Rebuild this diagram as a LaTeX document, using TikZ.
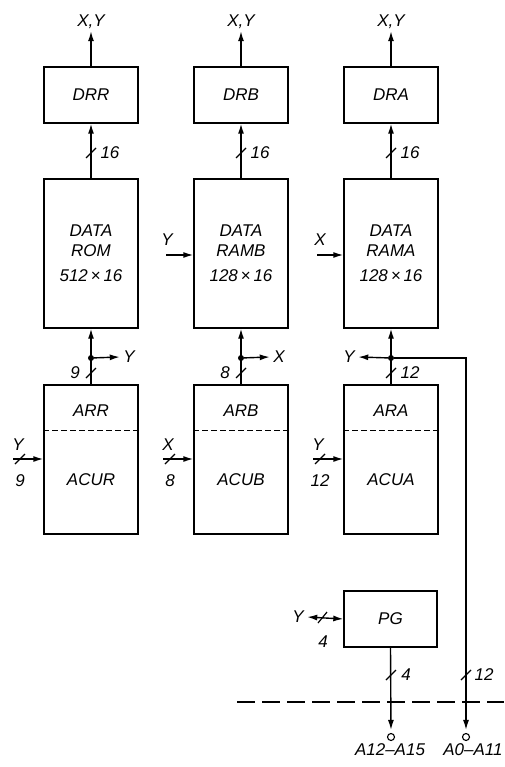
\documentclass[tikz,border=0pt]{standalone}
\usepackage{fontspec}
\setmainfont{Liberation Sans}
\usetikzlibrary{arrows.meta,calc}

\begin{document}
\begin{tikzpicture}[
  x=1pt,
  y=-1pt,
  font=\fontsize{17}{20}\selectfont\itshape,
  >={Latex[length=10pt,width=6pt]},
  blk/.style={draw, line width=1.4pt, minimum width=94pt, inner sep=0pt, align=center},
  bus/.style={line width=1.4pt, ->},
  dbus/.style={line width=1.4pt, <->},
  slash/.style={line width=1.2pt},
  dot/.style={circle, fill, inner sep=0pt, minimum size=6pt},
  port/.style={circle, draw, fill=white, inner sep=0pt, minimum size=7pt, line width=1.1pt},
  boundary/.style={line width=1.3pt, dash pattern=on 18pt off 7pt},
]
  \useasboundingbox (0,0) rectangle (504,767);

  % three address/data columns
  \foreach \cx/\dr/\rom/\sz/\ar/\acu/\il/\bits in {91/DRR/ROM/512/ARR/ACUR/Y/9,
      241/DRB/RAMB/128/ARB/ACUB/X/8, 391/DRA/RAMA/128/ARA/ACUA/Y/12} {
    \node[blk, minimum height=56pt] (\dr) at (\cx,95) {\dr};
    \node[blk, minimum height=149pt] (\rom) at (\cx,253.5) {DATA\\\rom\\[5pt]\sz\,×\,16};
    \node[blk, minimum height=149pt] (\ar) at (\cx,459.5) {};
    \draw[line width=1.1pt, dash pattern=on 6pt off 3pt]
      ($(\ar.north west)!0.31!(\ar.south west)$) -- ($(\ar.north east)!0.31!(\ar.south east)$);
    \node (\ar-lab) at (\cx,411) {\ar};
    \node (\acu) at (\cx,480) {\acu};

    \node[inner sep=2pt] (\dr-out) at (\cx,22) {X,Y};
    \draw[bus] (\dr.north) -- (\dr-out.south);
    \draw[bus] (\rom.north) -- (\dr.south);
    \draw[slash] (\cx-5,158) -- (\cx+5,148);
    \node (\dr-bits) at (\cx+19,153) {16};
    \draw[bus] (\ar.north) -- (\rom.south);

    \coordinate (\acu-src) at (\cx-78,459);
    \node (\acu-in) at (\cx-73,445) {\il};
    \node (\acu-bits) at (\cx-71,481) {\bits};
    \draw[bus] (\acu-src) -- (\ar.west |- \acu-src);
    \draw[slash] (\cx-76,464) -- (\cx-66,454);
  }

  % taps on ROM and RAMB address
  \foreach \cx/\ar/\tap/\bits in {91/ARR/Y/9, 241/ARB/X/8} {
    \node[dot] (\ar-j) at (\cx,358) {};
    \node (\ar-tap) at (\cx+38,357) {\tap};
    \draw[bus] (\ar-j) -- (\ar-tap.west);
    \draw[slash] (\cx-5,378) -- (\cx+5,368);
    \node (\ar-bits) at (\cx-16,373) {\bits};
  }

  % RAMA address tap
  \node[dot] (ARA-j) at (391,358) {};
  \node (ARA-tap) at (349,357) {Y};
  \draw[bus] (ARA-j) -- (ARA-tap.east);
  \draw[slash] (386,378) -- (396,368);
  \node (ARA-bits) at (410,373) {12};

  % RAM inputs
  \node (RAMB-in) at (167,240) {Y};
  \coordinate (RAMB-src) at (166,255);
  \draw[bus] (RAMB-src) -- (RAMB.west |- RAMB-src);
  \node (RAMA-in) at (320,240) {X};
  \coordinate (RAMA-src) at (317,255);
  \draw[bus] (RAMA-src) -- (RAMA.west |- RAMA-src);

  % PG
  \node[blk, minimum width=93pt, minimum height=56pt] (PG) at (390.5,619) {PG};
  \node (PG-in) at (298,617) {Y};
  \draw[dbus] (PG-in.east) -- (PG.west);
  \draw[slash] (318,623) -- (327,612);
  \node (PG-inbits) at (323,642) {4};

  % address outputs
  \node[port] (A12) at (391,737) {};
  \node[port] (A0) at (466,737) {};
  \coordinate (bend) at (466,358);
  \draw[bus, shorten >=3pt] (PG.south) -- (A12.north);
  \draw[bus, shorten >=3pt] (ARA-j) -- (bend) -- (A0.north);
  \draw[slash] (386,680) -- (396,670);
  \node (PG-bits) at (406,675) {4};
  \draw[slash] (461,680) -- (471,670);
  \node (A0-bits) at (484,675) {12};
  \node (A12-lab) at (390,750) {A12--A15};
  \node (A0-lab) at (473,750) {A0--A11};

  \draw[boundary] (237,702) -- (504,702);
\end{tikzpicture}
\end{document}
